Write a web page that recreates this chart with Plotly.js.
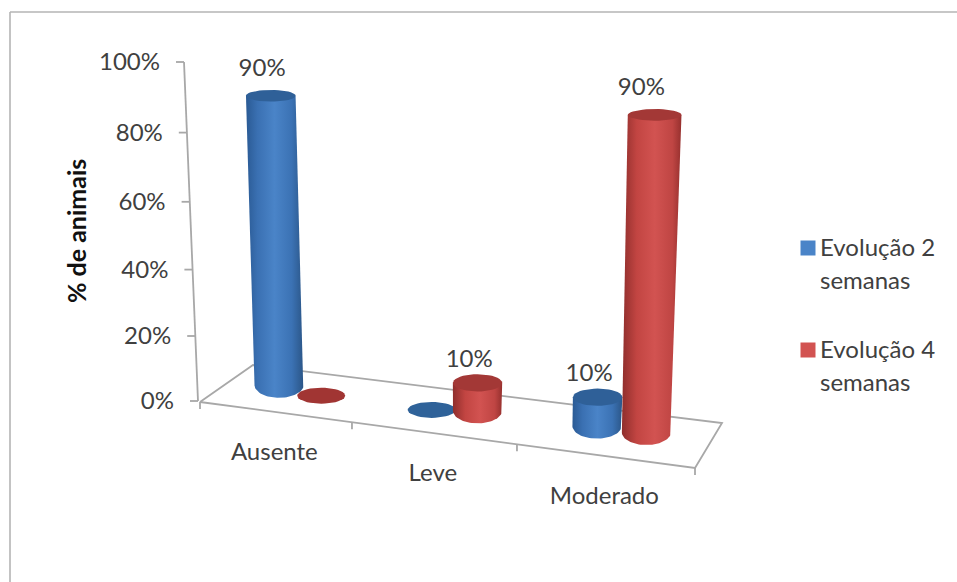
<!DOCTYPE html>
<html>
<head>
<meta charset="utf-8">
<script src="https://cdn.plot.ly/plotly-3.0.1.min.js"></script>
<style>html,body{margin:0;padding:0;background:#fff}#chart{width:957px;height:582px}</style>
</head>
<body>
<div id="chart"></div>
<script>
const categories = ['Ausente', 'Leve', 'Moderado'];
const valueTicks = [0, 20, 40, 60, 80, 100];
const seriesNames = ['Evolução 2 semanas', 'Evolução 4 semanas'];
const semanas2 = [90, 0, 10];
const semanas4 = [0, 10, 90];
const yTitle = '% de animais';

const FONT = 'Lato, Carlito, sans-serif';
const INK = '#404040';
const RULE = '#a8a8a8';
const TEXT_SIZE = 24;

const palette = [
  {cap: '#2f6098', flat: '#2f6299',
   body: [[0, '#2a5a94'], [0.2, '#3a70b2'], [0.5, '#4a84c8'], [0.8, '#3b72b4'], [1, '#2b5688']]},
  {cap: '#a33836', flat: '#a13533',
   body: [[0, '#8f2e2c'], [0.25, '#c24542'], [0.55, '#d25351'], [0.85, '#bf4543'], [1, '#96302e']]}
];

// Corners of the chart floor on the page.
const floor = {
  frontLeft: [200, 402], frontRight: [695, 468],
  backLeft: [253, 365], backRight: [722, 423]
};

// Categories get slightly narrower towards the left of the floor.
const along = s => s * (0.8815 + 0.1185 * s);

function floorPoint(u, depth) {
  const f = [floor.frontLeft[0] + (floor.frontRight[0] - floor.frontLeft[0]) * u,
             floor.frontLeft[1] + (floor.frontRight[1] - floor.frontLeft[1]) * u];
  const b = [floor.backLeft[0] + (floor.backRight[0] - floor.backLeft[0]) * u,
             floor.backLeft[1] + (floor.backRight[1] - floor.backLeft[1]) * u];
  return [f[0] + (b[0] - f[0]) * depth, f[1] + (b[1] - f[1]) * depth];
}

// Height on the page of a value, standing at position u along the floor.
const riseAt = (value, u) => value * (2.506 + 0.0074 * value + 0.41 * u);
// Height of a value on the slanted value axis.
const axisRise = value => value * (3.215 + 0.00175 * value);
const axisPoint = value => [198 - 14 * value / 100, 401 - axisRise(value)];

function halfEllipse(cx, cy, rx, ry, from, to) {
  const xs = [], ys = [];
  for (let i = 0; i <= 40; i++) {
    const a = from + (to - from) * i / 40;
    xs.push(cx + rx * Math.cos(a));
    ys.push(cy + ry * Math.sin(a));
  }
  return [xs, ys];
}

const traces = [];

function polyline(xs, ys, color, width) {
  traces.push({type: 'scatter', mode: 'lines', x: xs, y: ys, showlegend: false,
    hoverinfo: 'skip', line: {color: color, width: width}, cliponaxis: false});
}

function labels(xs, ys, texts, position, size, color) {
  traces.push({type: 'scatter', mode: 'text', x: xs, y: ys, text: texts, showlegend: false,
    hoverinfo: 'skip', textposition: position, cliponaxis: false,
    textfont: {family: FONT, size: size, color: color || INK}});
}

function filled(xs, ys, extra) {
  traces.push(Object.assign({type: 'scatter', mode: 'lines', x: xs, y: ys, fill: 'toself',
    showlegend: false, hoverinfo: 'skip', line: {width: 0}}, extra));
}

// Floor outline with its ticks.
const corners = [floor.frontLeft, floor.frontRight, floor.backRight, floor.backLeft, floor.frontLeft];
polyline(corners.map(p => p[0]), corners.map(p => p[1]), RULE, 1.8);
for (let t = 0; t <= categories.length; t++) {
  const p = floorPoint(along(t / categories.length), 0);
  polyline([p[0], p[0]], [p[1], p[1] + 7], RULE, 1.8);
}

// Value axis with its ticks and labels.
const top100 = axisPoint(100), bottom0 = axisPoint(0);
polyline([top100[0], bottom0[0]], [top100[1], bottom0[1]], RULE, 1.8);
valueTicks.forEach(v => {
  const p = axisPoint(v);
  polyline([p[0] - 8, p[0]], [p[1], p[1]], RULE, 1.8);
});
labels(valueTicks.map(v => axisPoint(v)[0] - 24),
       valueTicks.map(v => axisPoint(v)[1] + 2),
       valueTicks.map(v => v + '%'), 'middle left', TEXT_SIZE);

// Cylinders, drawn left to right so the nearer ones overlap correctly.
const dataLabels = {x: [], y: [], text: []};
categories.forEach((cat, c) => {
  [semanas2, semanas4].forEach((series, s) => {
    const value = series[c];
    const t = c + 0.5 + (s === 0 ? -0.135 : 0.15);
    const u = along(t / categories.length);
    const foot = floorPoint(u, 0.5);
    const style = palette[s];
    if (value === 0) {
      const e = halfEllipse(foot[0], foot[1], 24, 8, 0, 2 * Math.PI);
      filled(e[0], e[1], {fillcolor: style.flat});
      return;
    }
    const baseY = foot[1] - 5;
    const rise = riseAt(value, u);
    const topX = foot[0] + (foot[0] - 463) * 0.045 * value / 90;
    const topY = baseY - rise;
    const topRx = 24.5 + 0.03 * value * u;
    const topRy = 9 - 0.035 * value;
    const lower = halfEllipse(foot[0], baseY, 24.5, 12.5, 0, Math.PI);
    const xs = [topX + topRx].concat(lower[0], [topX - topRx, topX + topRx]);
    const ys = [topY].concat(lower[1], [topY, topY]);
    filled(xs, ys, {fillcolor: style.body[2][1], fillgradient: {type: 'horizontal', colorscale: style.body}});
    const cap = halfEllipse(topX, topY, topRx, topRy, 0, 2 * Math.PI);
    filled(cap[0], cap[1], {fillcolor: style.cap});
    dataLabels.x.push(topX - 8 - u * 6 * value / 90);
    dataLabels.y.push(topY - 21.5 - 0.045 * value);
    dataLabels.text.push(value + '%');
  });
});
labels(dataLabels.x, dataLabels.y, dataLabels.text, 'middle center', TEXT_SIZE);

// Category names under the front edge of the floor.
const catPoints = categories.map((_, c) => floorPoint(along((c + 0.5) / categories.length), 0));
labels(catPoints.map(p => p[0]), catPoints.map(p => p[1] + 42), categories, 'middle center', TEXT_SIZE);

// Legend, one block per series with the name wrapped on two lines.
const legendRows = [248, 350];
seriesNames.forEach((name, s) => {
  const y = legendRows[s];
  traces.push({type: 'scatter', mode: 'markers', name: name, x: [808], y: [y], showlegend: false,
    hoverinfo: 'skip', marker: {symbol: 'square', size: 15, color: palette[s].body[2][1]}});
  const words = name.split(' ');
  labels([820, 820], [y + 2, y + 35], [words.slice(0, 2).join(' '), words[2]], 'middle right', TEXT_SIZE);
});

const layout = {
  width: 957, height: 582,
  margin: {l: 0, r: 0, t: 0, b: 0},
  paper_bgcolor: '#fff', plot_bgcolor: '#fff',
  showlegend: false,
  xaxis: {range: [0, 957], visible: false, fixedrange: true},
  yaxis: {range: [582, 0], visible: false, fixedrange: true},
  shapes: [
    {type: 'line', xref: 'paper', yref: 'paper', x0: 10 / 957, x1: 10 / 957, y0: 0, y1: 1 - 12 / 582,
     line: {color: '#b4b4b4', width: 1.6}},
    {type: 'line', xref: 'paper', yref: 'paper', x0: 10 / 957, x1: 1, y0: 1 - 12 / 582, y1: 1 - 12 / 582,
     line: {color: '#b4b4b4', width: 1.6}}
  ],
  annotations: [{
    xref: 'paper', yref: 'paper', x: 76 / 957, y: 1 - 231 / 582, text: '<b>' + yTitle + '</b>',
    textangle: -90, showarrow: false, xanchor: 'center', yanchor: 'middle',
    font: {family: FONT, size: 25, color: '#111'}
  }]
};

Plotly.newPlot('chart', traces, layout, {displayModeBar: false, staticPlot: true});
</script>
</body>
</html>
